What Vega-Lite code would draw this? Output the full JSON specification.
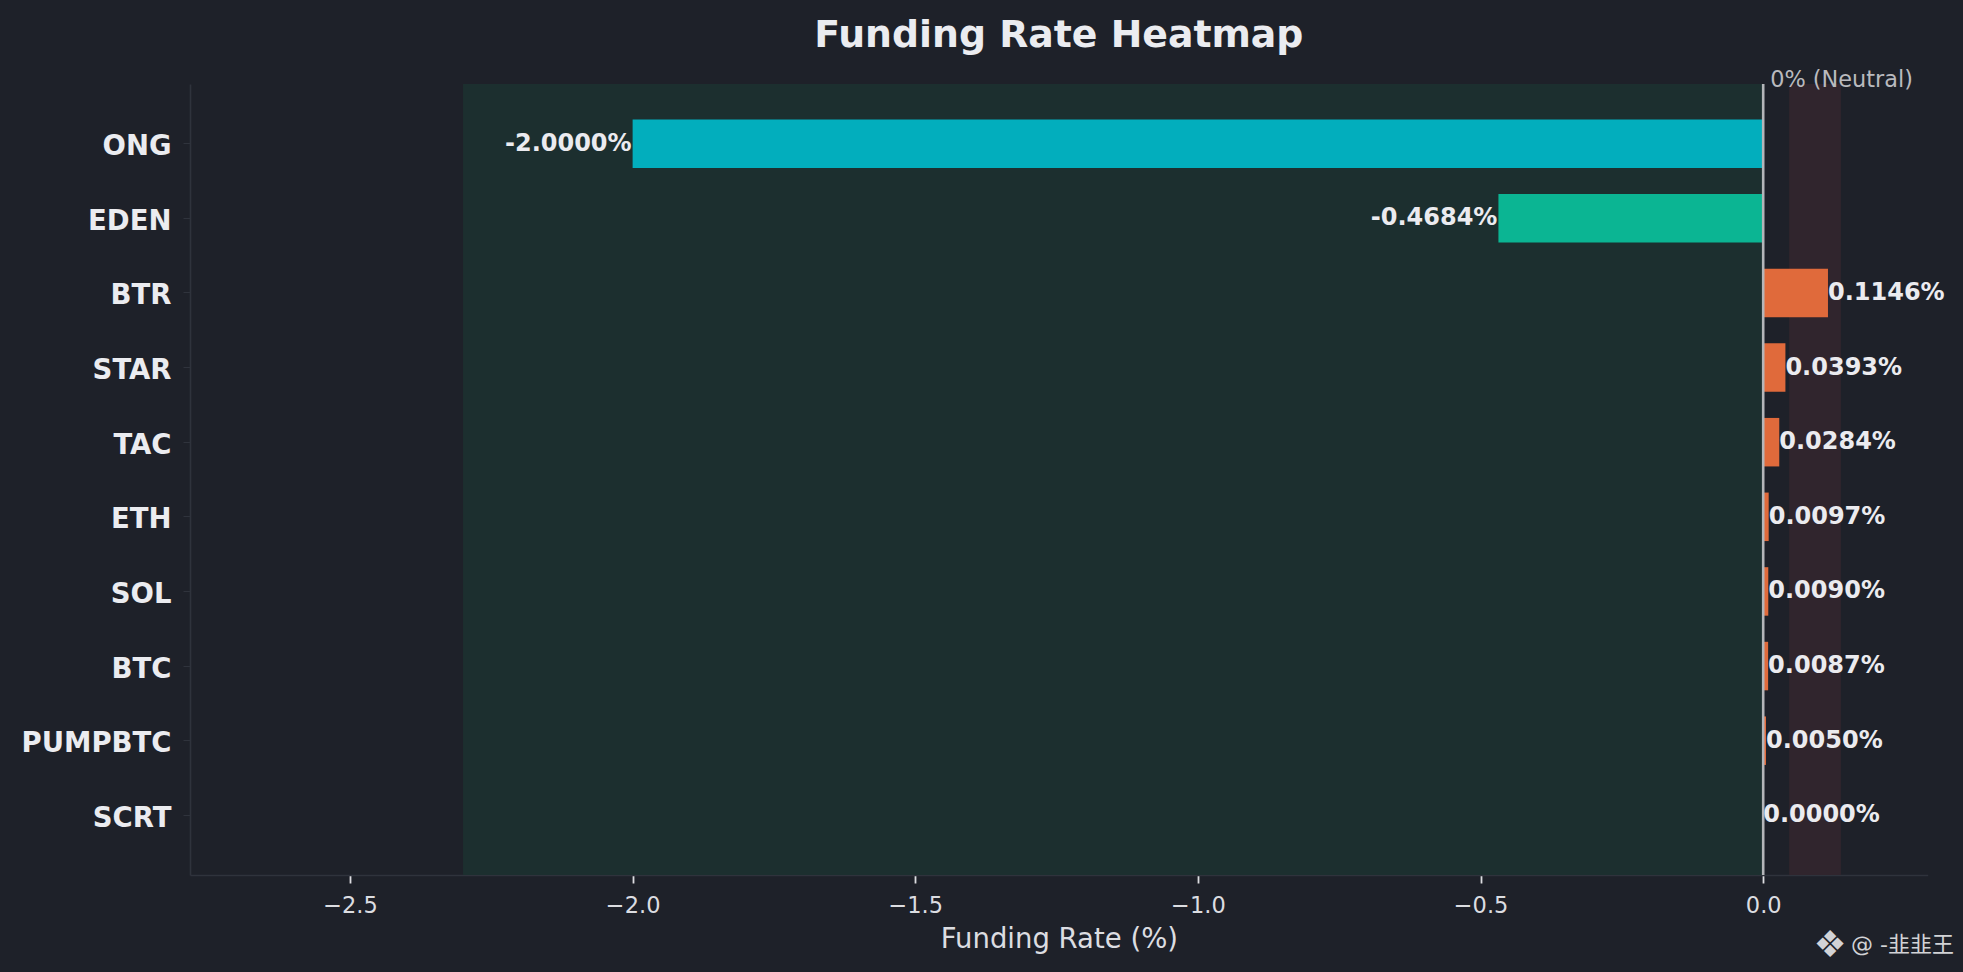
{
  "$schema": "https://vega.github.io/schema/vega-lite/v6.json",
  "width": 1737.7,
  "height": 791,
  "autosize": {"type": "none"},
  "padding": {"left": 190, "top": 84, "right": 35.3, "bottom": 97},
  "background": "#1e2129",
  "title": {
    "text": "Funding Rate Heatmap",
    "font": "DejaVu Sans",
    "fontSize": 37.8,
    "fontWeight": "bold",
    "color": "#ebecf0",
    "anchor": "middle",
    "baseline": "alphabetic",
    "offset": -16
  },
  "datasets": {
    "rates": [
      {"symbol": "ONG", "rate": -2.0},
      {"symbol": "EDEN", "rate": -0.4684},
      {"symbol": "BTR", "rate": 0.1146},
      {"symbol": "STAR", "rate": 0.0393},
      {"symbol": "TAC", "rate": 0.0284},
      {"symbol": "ETH", "rate": 0.0097},
      {"symbol": "SOL", "rate": 0.009},
      {"symbol": "BTC", "rate": 0.0087},
      {"symbol": "PUMPBTC", "rate": 0.005},
      {"symbol": "SCRT", "rate": 0.0}
    ],
    "zones": [
      {"zone": "short", "start": -2.3, "end": 0},
      {"zone": "long", "start": 0.0458, "end": 0.1375}
    ]
  },
  "layer": [
    {
      "data": {"name": "zones"},
      "mark": {"type": "rect"},
      "encoding": {
        "x": {"field": "start", "type": "quantitative", "title": "Funding Rate (%)", "scale": {"domain": [-2.783, 0.291], "nice": false}},
        "x2": {"field": "end"},
        "color": {"condition": {"test": "datum.zone == 'short'", "value": "#1c2f2f"}, "value": "#30252d"}
      }
    },
    {
      "data": {"name": "rates"},
      "mark": {"type": "bar"},
      "encoding": {
        "y": {
          "field": "symbol",
          "type": "nominal",
          "title": null,
          "scale": {
            "domain": ["ONG", "EDEN", "BTR", "STAR", "TAC", "ETH", "SOL", "BTC", "PUMPBTC", "SCRT"],
            "paddingInner": 0.35,
            "paddingOuter": 0.475
          }
        },
        "x": {
          "field": "rate",
          "type": "quantitative",
          "title": "Funding Rate (%)",
          "scale": {"domain": [-2.783, 0.291], "nice": false},
          "axis": {"values": [-2.5, -2, -1.5, -1, -0.5, 0], "format": ".1f"}
        },
        "color": {
          "field": "rate",
          "type": "quantitative",
          "scale": {"type": "threshold", "domain": [-1, 0], "range": ["#02aebd", "#0bb593", "#e06a3b"]},
          "legend": null
        }
      }
    },
    {
      "data": {"values": [{"note": "0% (Neutral)"}]},
      "mark": {"type": "rule", "color": "#b4b5b9", "strokeWidth": 2.6},
      "encoding": {
        "x": {"datum": 0, "type": "quantitative"}
      }
    },
    {
      "data": {"values": [{"note": "0% (Neutral)"}]},
      "mark": {"type": "text", "align": "left", "baseline": "alphabetic", "dx": 7, "dy": -57, "font": "DejaVu Sans", "fontSize": 22.4, "color": "#b9babe"},
      "encoding": {
        "x": {"datum": 0, "type": "quantitative"},
        "y": {"datum": "ONG", "type": "nominal"},
        "text": {"field": "note"}
      }
    },
    {
      "data": {"name": "rates"},
      "transform": [
        {"filter": "datum.rate < 0"},
        {"calculate": "replace(format(datum.rate, '.4f'), '\u2212', '-') + '%'", "as": "label"}
      ],
      "mark": {"type": "text", "align": "right", "baseline": "middle", "dx": -1, "font": "DejaVu Sans", "fontSize": 24, "fontWeight": "bold", "color": "#ebebef"},
      "encoding": {
        "x": {"field": "rate", "type": "quantitative", "title": "Funding Rate (%)"},
        "y": {"field": "symbol", "type": "nominal"},
        "text": {"field": "label"}
      }
    },
    {
      "data": {"name": "rates"},
      "transform": [
        {"filter": "datum.rate >= 0"},
        {"calculate": "format(datum.rate, '.4f') + '%'", "as": "label"}
      ],
      "mark": {"type": "text", "align": "left", "baseline": "middle", "dx": 0, "font": "DejaVu Sans", "fontSize": 24, "fontWeight": "bold", "color": "#ebebef"},
      "encoding": {
        "x": {"field": "rate", "type": "quantitative", "title": "Funding Rate (%)"},
        "y": {"field": "symbol", "type": "nominal"},
        "text": {"field": "label"}
      }
    },
    {
      "data": {"values": [{"handle": "@ -韭韭王", "logo": "❖"}]},
      "layer": [
        {
          "mark": {"type": "text", "align": "right", "baseline": "middle", "dx": 26.3, "dy": 129.7, "font": "DejaVu Sans, Noto Sans CJK SC", "fontSize": 22, "color": "#d2d3d6"},
          "encoding": {
            "x": {"datum": 0.291, "type": "quantitative"},
            "y": {"datum": "SCRT", "type": "nominal"},
            "text": {"field": "handle"}
          }
        },
        {
          "mark": {"type": "text", "align": "right", "baseline": "middle", "dx": -81, "dy": 131, "font": "DejaVu Sans", "fontSize": 37, "color": "#d2d3d6"},
          "encoding": {
            "x": {"datum": 0.291, "type": "quantitative"},
            "y": {"datum": "SCRT", "type": "nominal"},
            "text": {"field": "logo"}
          }
        }
      ]
    }
  ],
  "config": {
    "view": {"stroke": null},
    "font": "DejaVu Sans",
    "axisX": {
      "grid": false,
      "domainColor": "#2f333c",
      "domainWidth": 1.6,
      "tickColor": "#dcdde1",
      "tickSize": 8,
      "tickWidth": 1.8,
      "labelColor": "#dcdde1",
      "labelFont": "DejaVu Sans",
      "labelFontSize": 22.5,
      "labelPadding": 11,
      "titleColor": "#dcdde1",
      "titleFont": "DejaVu Sans",
      "titleFontSize": 27.5,
      "titleFontWeight": "normal",
      "titlePadding": 9
    },
    "axisY": {
      "grid": false,
      "domainColor": "#2f333c",
      "domainWidth": 1.6,
      "tickColor": "#2f333c",
      "tickSize": 7,
      "labelColor": "#ebecf0",
      "labelFont": "DejaVu Sans",
      "labelFontSize": 27.5,
      "labelFontWeight": "bold",
      "labelPadding": 12,
      "labelOffset": 3.5
    }
  }
}
